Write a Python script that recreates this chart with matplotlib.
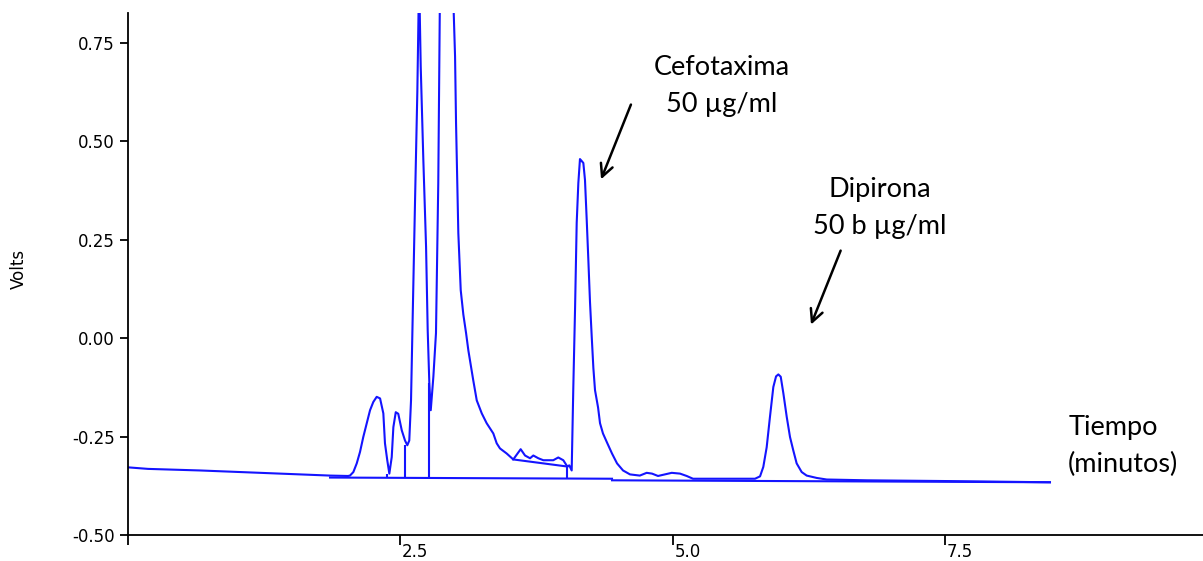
import numpy as np
import matplotlib
matplotlib.use("Agg")
import matplotlib.pyplot as plt
import matplotlib.transforms as mtransforms

# chromatogram trace (minutes, volts)
time_min = [0.0, 0.188, 0.665, 1.124, 1.583, 1.858, 2.023, 2.041, 2.072, 2.103,
            2.133, 2.163, 2.194, 2.225, 2.255, 2.286, 2.317, 2.347, 2.362, 2.383,
            2.402, 2.424, 2.439, 2.461, 2.484, 2.516, 2.546, 2.567, 2.585, 2.601,
            2.617, 2.638, 2.659, 2.675, 2.690, 2.714, 2.739, 2.754, 2.769, 2.782,
            2.806, 2.830, 2.851, 2.867, 2.930, 2.989, 3.005, 3.014, 3.035, 3.057,
            3.081, 3.106, 3.127, 3.172, 3.204, 3.250, 3.295, 3.356, 3.387, 3.417,
            3.479, 3.539, 3.607, 3.647, 3.693, 3.723, 3.769, 3.815, 3.906, 3.952,
            3.998, 4.035, 4.053, 4.075, 4.090, 4.106, 4.121, 4.136, 4.151, 4.167,
            4.182, 4.197, 4.213, 4.228, 4.243, 4.259, 4.274, 4.289, 4.317, 4.335,
            4.362, 4.399, 4.445, 4.491, 4.546, 4.610, 4.700, 4.763, 4.812, 4.867,
            4.993, 5.069, 5.130, 5.188, 5.436, 5.757, 5.803, 5.833, 5.864, 5.894,
            5.925, 5.950, 5.971, 5.993, 6.017, 6.048, 6.078, 6.108, 6.139, 6.185,
            6.231, 6.323, 6.415, 6.784, 7.546, 8.463]
volts = [-0.328, -0.332, -0.336, -0.341, -0.346, -0.349, -0.350, -0.349, -0.340, -0.318,
         -0.289, -0.251, -0.217, -0.183, -0.162, -0.149, -0.153, -0.191, -0.267, -0.310,
         -0.344, -0.302, -0.226, -0.188, -0.192, -0.234, -0.260, -0.272, -0.260, -0.158,
         0.064, 0.351, 0.627, 0.920, 0.690, 0.453, 0.232, 0.020, -0.115, -0.183,
         -0.098, 0.013, 0.394, 0.900, 2.100, 0.860, 0.716, 0.547, 0.267, 0.122,
         0.060, 0.013, -0.031, -0.107, -0.158, -0.191, -0.216, -0.242, -0.267, -0.280,
         -0.293, -0.308, -0.282, -0.298, -0.305, -0.298, -0.305, -0.310, -0.310, -0.303,
         -0.310, -0.326, -0.323, -0.336, -0.124, 0.076, 0.293, 0.394, 0.455, 0.450,
         0.445, 0.402, 0.300, 0.198, 0.092, 0.003, -0.076, -0.132, -0.176, -0.216,
         -0.242, -0.265, -0.293, -0.318, -0.336, -0.346, -0.349, -0.342, -0.344, -0.350,
         -0.342, -0.344, -0.350, -0.357, -0.357, -0.357, -0.351, -0.327, -0.277, -0.200,
         -0.124, -0.097, -0.092, -0.098, -0.140, -0.200, -0.251, -0.285, -0.318, -0.340,
         -0.349, -0.355, -0.359, -0.361, -0.363, -0.366]

# integration baselines
base_t = [[1.858, 4.445], [4.445, 8.463], [3.539, 4.035]]
base_v = [[-0.354, -0.357], [-0.361, -0.366], [-0.308, -0.326]]

# peak drop lines
drop_t = [2.383, 2.546, 2.769, 4.035]
drop_top = [-0.344, -0.272, -0.115, -0.326]
drop_bottom = [-0.354, -0.355, -0.355, -0.356]

# annotations: label, text position, arrow tail, arrow head
notes = ["Cefotaxima\n50 µg/ml", "Dipirona\n50 b µg/ml"]
note_xy = [(5.45, 0.640), (6.90, 0.330)]
arrow_tail = [(4.628, 0.600), (6.552, 0.229)]
arrow_head = [(4.335, 0.397), (6.261, 0.028)]

xticks = [0.0, 2.5, 5.0, 7.5]
xticklabels = ["", "2.5", "5.0", "7.5"]
yticks = [-0.50, -0.25, 0.00, 0.25, 0.50, 0.75]

fig = plt.figure(figsize=(12.03, 5.61), dpi=100)
ax = fig.add_axes([0.106, 0.0463, 0.894, 0.9305])

blue = "#1414ff"
ax.plot(time_min, volts, color=blue, lw=1.5)
for bt, bv in zip(base_t, base_v):
    ax.plot(bt, bv, color=blue, lw=1.5)
ax.vlines(drop_t, drop_bottom, drop_top, color=blue, lw=1.5)

ax.set_xlim(0, 9.867)
ax.set_ylim(-0.5, 0.826)

ax.spines["top"].set_visible(False)
ax.spines["right"].set_visible(False)
ax.spines["left"].set_linewidth(1.3)
ax.spines["bottom"].set_linewidth(1.3)

ax.set_yticks(yticks)
ax.set_yticklabels(["%.2f" % y for y in yticks], fontfamily="DejaVu Sans", fontsize=12)
ax.set_xticks(xticks)
ax.set_xticklabels(xticklabels, fontfamily="DejaVu Sans", fontsize=12, ha="left")
ax.tick_params(axis="y", direction="out", length=6, width=1.3, pad=3)
ax.tick_params(axis="x", direction="out", length=7, width=1.3, pad=-1)
offset = mtransforms.ScaledTranslation(2 / 100, 0, fig.dpi_scale_trans)
for lab in ax.get_xticklabels():
    lab.set_transform(lab.get_transform() + offset)

ax.set_ylabel("Volts", fontfamily="DejaVu Sans", fontsize=12)
ax.yaxis.set_label_coords(-0.0925, 0.51)

for txt, xy, tail, head in zip(notes, note_xy, arrow_tail, arrow_head):
    ax.text(xy[0], xy[1], txt, ha="center", va="center", fontfamily="Lato",
            fontsize=19.5, linespacing=1.6)
    ax.annotate("", xy=head, xytext=tail,
                arrowprops=dict(arrowstyle="->,head_length=0.9,head_width=0.45",
                                color="black", lw=1.8))

ax.text(8.63, -0.274, "Tiempo\n(minutos)", ha="left", va="center", fontfamily="Lato",
        fontsize=19.5, linespacing=1.6)

fig.savefig("out.png", dpi=100)
